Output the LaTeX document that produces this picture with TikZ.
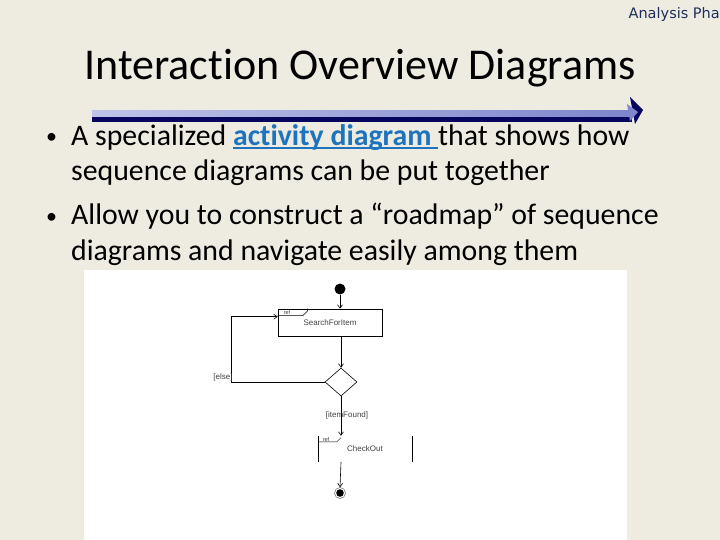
\documentclass[tikz,border=0pt]{standalone}
\usepackage{fontspec}
\setmainfont[Ligatures=NoCommon]{Carlito}
\newfontfamily\hdrfont{DejaVu Sans}
\newfontfamily\diagfont{Liberation Sans}
\usetikzlibrary{shapes.geometric,arrows.meta}
\definecolor{bgc}{HTML}{EEECE1}
\definecolor{navybar}{HTML}{06065E}
\definecolor{lightbarL}{HTML}{BEC3E8}
\definecolor{lightbarR}{HTML}{7E86CC}
\definecolor{linkblue}{RGB}{30,115,190}
\definecolor{hdrblue}{HTML}{1F2F5C}
\newcommand\ulinkk[1]{\setbox0\hbox{#1}\rlap{\rule[-2.6pt]{\wd0}{1.5pt}}\box0}
\tikzset{
  slidetext/.style={anchor=base west, inner sep=0, font=\fontsize{29.8}{34}\selectfont},
  bulletmark/.style={anchor=base west, inner sep=0, font=\fontsize{22}{26}\selectfont},
  arr/.style={draw=black, line width=0.6pt, -{Straight Barb[length=3.5pt,width=5pt]}},
  lbl/.style={inner sep=0, text=black!75, font=\diagfont\fontsize{8}{9}\selectfont},
  reflbl/.style={inner sep=0, text=black!75, font=\diagfont\fontsize{5.5}{6}\selectfont},
  actbox/.style={draw=black, line width=0.6pt, inner sep=0}
}
\begin{document}
\begin{tikzpicture}[x=1pt,y=-1pt]
\useasboundingbox (0,0) rectangle (720,540);
\fill[bgc] (0,0) rectangle (720,540);

% header
\node[anchor=base east, inner sep=0, text=hdrblue, font=\hdrfont\fontsize{14.5}{16}\selectfont] (hdr) at (720,19) {Analysis Pha};

% title
\node[inner sep=0, font=\fontsize{44}{52}\selectfont] (title) at (360,68) {Interaction Overview Diagrams};

% bar with arrow
\shade[left color=lightbarL, right color=lightbarR] (92,111) rectangle (632,117.5);
\fill[navybar] (92,117.5) rectangle (632,122);
\fill[navybar] (630,97) -- (643,110) -- (635,124) -- cycle;
\fill[lightbarR] (627,104) -- (638,112) -- (630,121) -- cycle;

% bullets
\node[bulletmark] (bul1) at (46,144) {•};
\node[slidetext] (l1) at (71,146) {A specialized \textcolor{linkblue}{\ulinkk{\textbf{activity diagram }}}that shows how};
\node[slidetext] (l2) at (71,181) {sequence diagrams can be put together};
\node[bulletmark] (bul2) at (46,223) {•};
\node[slidetext] (l3) at (71,225) {Allow you to construct a “roadmap” of sequence};
\node[slidetext] (l4) at (71,260) {diagrams and navigate easily among them};

% diagram panel
\fill[white] (84,270) rectangle (627,540);

\node[circle, fill=black, inner sep=0, minimum size=11pt] (init) at (340,289) {};
\node[actbox, minimum width=104pt, minimum height=27pt, lbl, draw=black, text=black!75] (search) at (330,322.5) {SearchForItem};
\draw[line width=0.5pt] ([yshift=-7pt]search.north west) -- ++(25,0) -- ++(5,-5) -- ++(0,-2);
\node[reflbl] (ref1) at (287,312.5) {ref};

\node[diamond, draw=black, line width=0.6pt, inner sep=0, minimum width=32pt, minimum height=28pt] (dec) at (341,382) {};

\node[lbl, minimum width=94pt, minimum height=26pt] (check) at (365,449) {CheckOut};
\draw[line width=0.6pt] (check.north west) -- (check.south west);
\draw[line width=0.6pt] (check.north east) -- (check.south east);
\draw[line width=0.5pt] ([yshift=-6pt]check.north west) -- ++(19,0) -- ++(4,-4);
\node[reflbl] (ref2) at (326,439.5) {ref};

\node[circle, draw=black!60, line width=0.5pt, inner sep=0, minimum size=11pt] (final) at (340,493) {};
\fill[black] (final.center) circle (3.8pt);

\draw[arr] (init) -- (init |- search.north);
\draw[arr] (dec.north |- search.south) -- (dec.north);
\draw[arr] (dec.west) -- ++(-93,0) |- ([yshift=-8pt]search.north west);
\draw[arr] (dec.south) -- (dec.south |- check.north);
\draw[arr] (dec.south |- check.south) -- (final.north);

\node[lbl] (elsel) at (223,377) {[else]};
\node[lbl] (foundl) at (347,415) {[itemFound]};
\end{tikzpicture}
\end{document}
